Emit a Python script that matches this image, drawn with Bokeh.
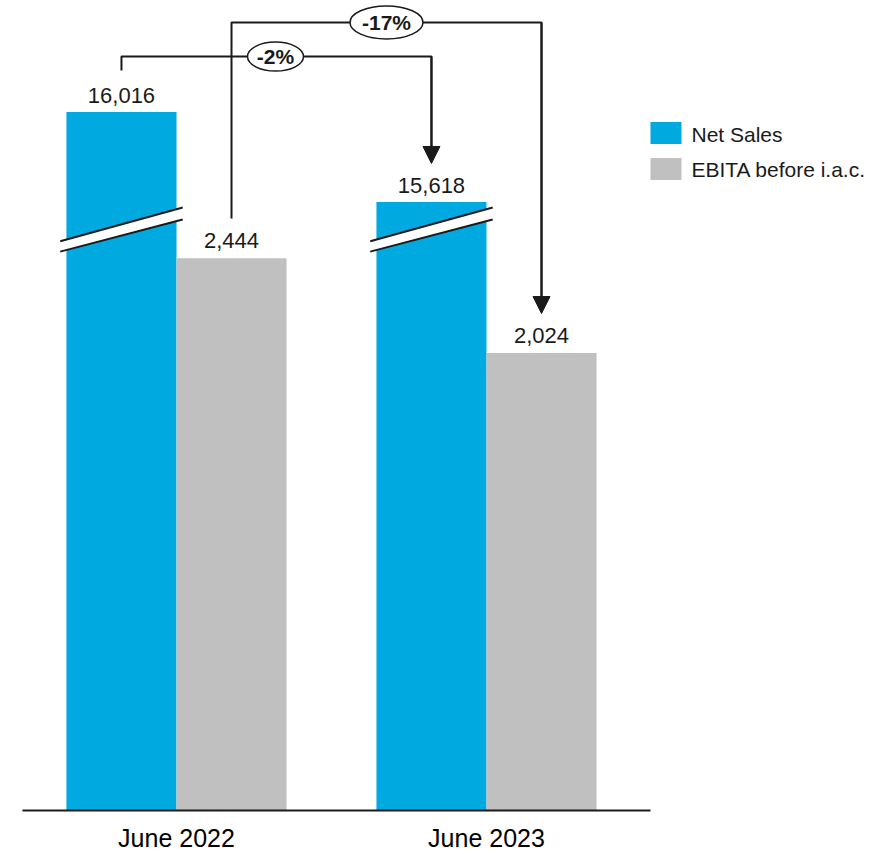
from bokeh.plotting import figure
from bokeh.models import Range1d, Arrow, NormalHead
from bokeh.core.properties import value
from bokeh.embed import file_html
from bokeh.resources import INLINE

# ---------------- data ----------------
periods = ["June 2022", "June 2023"]
series = ["Net Sales", "EBITA before i.a.c."]
net_sales = [16016, 15618]
ebita = [2444, 2024]
net_sales_labels = ["16,016", "15,618"]
ebita_labels = ["2,444", "2,024"]
change_labels = ["-2%", "-17%"]

# ---------------- style ----------------
BLUE = "#00A9E0"
GRAY = "#C0C0C0"
INK = "#1a1a1a"
FONT = value("Liberation Sans")
BREAK_OFFSET = 12925          # amount cut out of the Net Sales bars (axis break)
BAR_W = 0.355
groups = [0, 1]

net_x = [g - BAR_W / 2 for g in groups]
eb_x = [g + BAR_W / 2 for g in groups]
net_disp = [v - BREAK_OFFSET for v in net_sales]

p = figure(width=892, height=851,
           x_range=Range1d(-0.5677, 2.3097), y_range=Range1d(-181.4, 3584.1),
           x_axis_location=None, y_axis_location=None,
           output_backend="svg", toolbar_location=None, min_border=0)
p.grid.visible = False
p.outline_line_color = None
p.background_fill_color = "white"

# bars
p.vbar(x=net_x, top=net_disp, width=BAR_W, fill_color=BLUE, line_color=None)
p.vbar(x=eb_x, top=ebita, width=BAR_W, fill_color=GRAY, line_color=None)

# axis-break marks on the Net Sales bars
ext = 0.02
brk_top = (2519, 2668)
brk_bot = (2473, 2615)
xs_band, ys_band, xs_l, ys_l = [], [], [], []
for x in net_x:
    xl, xr = x - BAR_W / 2 - ext, x + BAR_W / 2 + ext
    xs_band.append([xl, xr, xr, xl])
    ys_band.append([brk_top[0], brk_top[1], brk_bot[1], brk_bot[0]])
    xs_l += [[xl, xr], [xl, xr]]
    ys_l += [[brk_top[0], brk_top[1]], [brk_bot[0], brk_bot[1]]]
p.patches(xs_band, ys_band, fill_color="white", line_color=None)
p.multi_line(xs_l, ys_l, line_color=INK, line_width=2)

# value labels
p.text(x=net_x, y=net_disp, text=net_sales_labels, text_align="center",
       text_baseline="alphabetic", y_offset=-16, text_font=FONT,
       text_font_size="22px", text_color=INK)
p.text(x=eb_x, y=ebita, text=ebita_labels, text_align="center",
       text_baseline="alphabetic", y_offset=-18, text_font=FONT,
       text_font_size="22px", text_color=INK)

# baseline axis
p.line(x=[-0.4968, 1.529], y=[0, 0], line_color=INK, line_width=2)
p.text(x=groups, y=[0, 0], text=periods, text_align="center",
       text_baseline="alphabetic", y_offset=27, text_font=FONT,
       text_font_size="25px", text_color="black")

# change connectors
conn = [
    # x_from, x_to, y_start, y_level, y_tip, label_x, ellipse w, ellipse h
    (net_x[0], net_x[1], 3274, 3336, 2863, 0.3194, 56, 29),
    (eb_x[0], eb_x[1], 2620, 3487, 2199, 0.6774, 73, 33),
]
for (x0, x1, ys, yl, yt, lx, ew, eh), lab in zip(conn, change_labels):
    p.line(x=[x0, x0, x1, x1], y=[ys, yl, yl, yt + 40], line_color=INK, line_width=2)
    p.add_layout(Arrow(end=NormalHead(size=17, fill_color=INK, line_color=INK),
                       x_start=x1, y_start=yl, x_end=x1, y_end=yt,
                       line_color=INK, line_width=2))
    p.ellipse(x=[lx], y=[yl], width=ew, height=eh, width_units="screen",
              height_units="screen", fill_color="white", line_color=INK,
              line_width=1.5)
    p.text(x=[lx], y=[yl], text=[lab], text_align="center",
           text_baseline="middle", y_offset=0, text_font=FONT,
           text_font_size="21px", text_font_style="bold", text_color=INK)

# legend
leg_x = [1.579, 1.579]
leg_y = [2998, 2838]
p.rect(x=leg_x, y=leg_y, width=31, height=22, width_units="screen",
       height_units="screen", fill_color=[BLUE, GRAY], line_color=None)
p.text(x=[1.6613, 1.6613], y=[2956, 2801], text=series, text_align="left",
       text_baseline="alphabetic", y_offset=-8, text_font=FONT,
       text_font_size="21px", text_color=INK)

open("out.html", "w").write(file_html(p, INLINE))
